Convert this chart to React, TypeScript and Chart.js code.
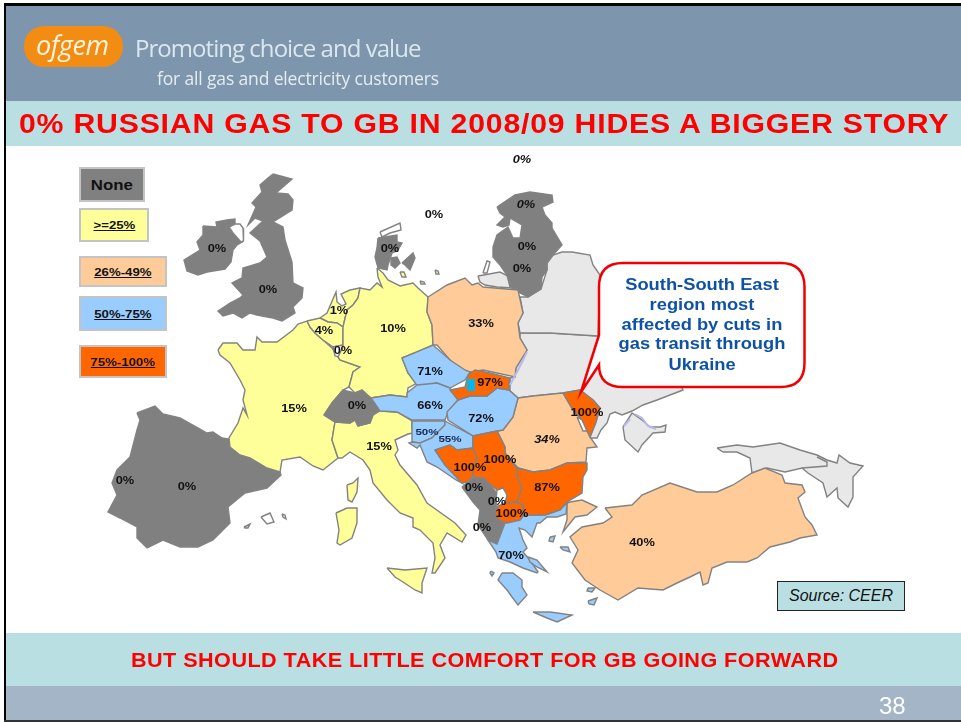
import React, { useEffect, useRef } from "react";
import { Chart, registerables } from "chart.js";

Chart.register(...registerables);

type Pt = [number, number];

const GRAY = "#808080";
const YELLOW = "#ffff99";
const PEACH = "#ffcc99";
const BLUE = "#99ccff";
const ORANGE = "#ff6600";
const PALE = "#e8e8e8";
const WHITE = "#ffffff";

const ukraine: Pt[] = [[520,333],[550,333],[598,336],[660,340],[683,390],[670,395],[657,400],[643,405],[632,411],[622,415],[615,412],[610,414],[607,423],[601,430],[597,438],[582,438],[590,437],[596,422],[600,408],[593,400],[580,390],[563,393],[533,396],[518,398],[509,390],[510,378],[515,377],[516,368],[527,350],[520,338]];
const crimea: Pt[] = [[623,427],[632,413],[642,420],[650,427],[660,427],[666,425],[665,432],[653,433],[642,445],[638,452],[625,440]];
const belarus: Pt[] = [[541,289],[547,270],[547,263],[553,255],[562,252],[572,252],[590,255],[593,265],[600,275],[598,336],[550,333],[520,333],[518,323],[523,313],[520,297],[528,297]];
const kaliningrad: Pt[] = [[478,276],[500,272],[510,277],[513,288],[497,287],[485,285],[480,282]];
const curonianSpit: Pt[] = [[483,273],[487,261],[490,262],[487,273]];
const caucasus: Pt[] = [[717,448],[737,445],[753,447],[780,443],[800,450],[817,455],[827,460],[837,463],[839,455],[850,463],[863,466],[853,477],[853,497],[848,507],[838,498],[837,488],[827,497],[823,483],[808,473],[802,468],[785,472],[767,468],[752,473],[750,458],[737,452],[723,452]];
const caucasusBorder: Pt[] = [[802,468],[827,466],[827,462],[817,457]];

const ireland: Pt[] = [[203,226],[217,227],[216,222],[227,220],[235,219],[235,224],[229,227],[233,233],[242,242],[237,245],[233,250],[231,262],[225,269],[207,272],[198,275],[187,271],[184,260],[192,255],[200,250],[197,242],[203,235]];
const northernIreland: Pt[] = [[229,227],[235,224],[240,224],[243,228],[244,237],[243,241],[241,242],[233,233]];
const britain: Pt[] = [[273,174],[292,179],[276,193],[288,194],[293,200],[292,210],[273,222],[283,227],[285,240],[292,262],[293,283],[303,288],[302,298],[293,307],[295,313],[282,321],[273,318],[257,315],[250,313],[242,318],[233,313],[223,316],[218,311],[230,303],[240,298],[243,295],[232,283],[242,278],[243,268],[260,263],[267,257],[260,241],[250,233],[263,221],[255,218],[248,225],[256,207],[252,203],[262,192],[260,185],[268,178]];
const iberia: Pt[] = [[137,413],[155,406],[163,414],[180,418],[200,429],[207,433],[213,432],[222,438],[229,439],[230,447],[240,455],[250,458],[267,468],[280,472],[281,475],[267,488],[245,493],[228,507],[230,523],[213,540],[198,547],[180,547],[163,540],[147,548],[137,538],[137,527],[120,518],[108,512],[117,495],[112,483],[117,470],[130,457],[137,430],[140,420]];
const switzerland: Pt[] = [[324,415],[332,403],[343,390],[355,393],[362,390],[370,398],[380,410],[373,415],[370,423],[358,426],[355,420],[350,423],[335,422]];
const denmark: Pt[] = [[378,238],[397,235],[397,242],[402,243],[398,250],[392,253],[388,265],[387,270],[378,268],[375,257],[377,248]];
const funen: Pt[] = [[391,258],[397,257],[400,263],[395,268],[391,265]];
const zealand: Pt[] = [[402,263],[413,253],[415,258],[410,270],[405,265]];
const baltics: Pt[] = [[497,207],[515,195],[530,192],[552,195],[553,202],[542,207],[545,215],[552,223],[552,228],[562,245],[553,255],[547,263],[547,270],[542,277],[541,289],[528,297],[520,293],[510,287],[507,275],[500,265],[493,257],[493,247],[497,235],[508,227],[513,238],[520,238],[522,225],[510,218],[509,225],[503,227],[497,225],[505,217],[500,213]];
const albaniaMontenegro: Pt[] = [[462,487],[468,482],[473,478],[485,479],[496,492],[496,507],[495,513],[498,520],[505,523],[497,544],[488,540],[478,525],[480,510],[473,502]];

const france: Pt[] = [[218,350],[223,343],[237,343],[243,350],[255,350],[257,337],[262,342],[277,342],[293,330],[298,324],[307,321],[310,327],[315,333],[323,340],[332,348],[338,357],[340,360],[360,367],[353,372],[349,387],[343,390],[332,403],[324,415],[335,422],[332,440],[338,458],[323,470],[313,466],[300,457],[282,460],[280,472],[267,468],[250,458],[240,455],[230,447],[229,438],[238,423],[243,408],[247,415],[243,400],[245,390],[240,380],[230,363],[220,355]];
const netherlands: Pt[] = [[320,318],[327,313],[336,292],[337,302],[342,306],[346,304],[341,294],[350,290],[360,288],[358,298],[353,305],[347,310],[343,327],[337,323],[328,322]];
const belgium: Pt[] = [[307,321],[320,318],[328,322],[337,323],[343,327],[343,345],[333,347],[323,340],[315,333],[310,327]];
const luxembourg: Pt[] = [[333,347],[343,345],[344,350],[340,357],[335,356]];
const germany: Pt[] = [[377,268],[383,273],[388,280],[400,286],[413,283],[418,288],[428,297],[427,312],[432,325],[433,345],[418,352],[402,358],[408,373],[417,383],[408,388],[407,397],[390,395],[371,398],[362,390],[355,393],[349,387],[353,372],[360,367],[340,360],[338,357],[343,347],[343,327],[347,310],[353,305],[358,298],[360,288],[370,290],[377,283],[382,287],[378,277]];
const italy: Pt[] = [[335,422],[350,423],[355,420],[358,426],[370,423],[373,415],[380,411],[397,412],[412,421],[412,428],[413,433],[408,434],[395,440],[398,450],[395,455],[400,465],[417,485],[427,503],[455,523],[466,535],[462,542],[447,533],[440,545],[445,558],[435,573],[432,573],[435,558],[433,543],[420,530],[413,527],[413,518],[400,513],[387,500],[373,483],[370,470],[363,460],[350,452],[342,458],[338,458],[332,440]];
const sicily: Pt[] = [[387,568],[405,570],[427,568],[422,583],[422,593],[415,590],[403,582],[395,577]];
const sardinia: Pt[] = [[336,513],[347,508],[357,508],[357,523],[352,538],[340,545],[337,543],[339,530]];
const corsica: Pt[] = [[347,485],[353,483],[358,478],[357,492],[352,502],[348,500]];
const fehmarn: Pt[] = [[400,272],[404,272],[406,277],[402,277]];
const rugen: Pt[] = [[435,270],[438,271],[439,274],[436,274]];
const usedom: Pt[] = [[420,281],[424,282],[425,284],[421,284]];
const vendsyssel: Pt[] = [[380,232],[400,223],[401,230],[390,233],[382,237]];
const mallorca: Pt[] = [[261,517],[270,513],[274,522],[267,524]];
const menorca: Pt[] = [[282,514],[285,515],[286,519],[283,517]];
const ibiza: Pt[] = [[244,527],[250,524],[248,528],[245,528]];

const poland: Pt[] = [[428,297],[447,285],[465,278],[472,285],[478,283],[483,287],[518,290],[523,313],[518,323],[520,338],[527,350],[516,368],[515,377],[497,373],[483,370],[465,373],[450,360],[437,345],[433,345],[432,325],[427,312]];
const romania: Pt[] = [[518,398],[533,396],[563,393],[573,410],[582,420],[590,437],[597,447],[587,448],[586,462],[567,463],[550,470],[533,472],[518,468],[505,453],[505,447],[497,431],[503,430],[513,417]];
const thrace: Pt[] = [[570,502],[582,500],[597,507],[587,515],[575,517],[563,532],[567,520],[567,503]];
const anatolia: Pt[] = [[605,508],[632,505],[642,495],[670,483],[697,492],[717,492],[733,485],[752,473],[765,468],[782,475],[785,483],[802,485],[805,492],[798,498],[805,517],[812,525],[817,535],[800,538],[790,542],[778,545],[770,547],[757,558],[747,562],[727,562],[712,568],[708,583],[703,585],[700,572],[690,577],[677,583],[663,590],[638,588],[618,600],[600,590],[585,580],[572,563],[578,550],[570,537],[582,527],[603,523],[612,517]];

const czechia: Pt[] = [[402,358],[433,345],[450,360],[465,370],[470,372],[465,380],[450,388],[437,383],[418,387],[408,373]];
const austria: Pt[] = [[371,398],[390,395],[407,397],[407,393],[417,385],[437,383],[450,388],[458,400],[448,412],[445,420],[412,420],[397,412],[380,411]];
const hungary: Pt[] = [[458,400],[470,396],[487,396],[497,388],[509,390],[518,398],[513,417],[503,430],[497,431],[473,436],[448,420],[447,412]];
const slovenia: Pt[] = [[412,421],[445,421],[445,425],[432,438],[420,443],[412,442],[412,435]];
const croatia: Pt[] = [[445,421],[473,436],[473,448],[457,450],[450,445],[435,450],[445,465],[462,483],[456,480],[437,467],[427,462],[420,445],[417,448],[409,443],[412,442],[420,443],[432,438],[445,425]];
const greece: Pt[] = [[505,523],[524,515],[545,515],[560,510],[567,503],[566,514],[557,517],[547,517],[540,523],[537,523],[532,537],[525,530],[519,528],[523,540],[527,548],[523,552],[530,560],[538,572],[537,573],[523,568],[510,562],[498,558],[496,552],[488,540],[497,544]];
const peloponnese: Pt[] = [[502,573],[513,573],[522,580],[522,587],[527,595],[518,605],[512,597],[507,590],[498,580]];
const crete: Pt[] = [[533,612],[550,612],[572,615],[557,622],[547,618]];
const evia: Pt[] = [[528,557],[537,560],[547,572],[537,567],[530,562]];
const corfu: Pt[] = [[491,571],[494,573],[492,576],[490,573]];
const lesbos: Pt[] = [[550,537],[555,536],[553,542],[549,541]];
const chios: Pt[] = [[560,547],[568,547],[570,552],[563,550]];
const rhodes: Pt[] = [[588,588],[595,588],[592,592],[587,591]];
const kos: Pt[] = [[588,601],[597,598],[594,605],[589,604]];

const slovakia: Pt[] = [[468,375],[475,370],[490,373],[510,378],[509,390],[497,388],[487,396],[470,396],[458,400],[450,390],[465,387]];
const moldova: Pt[] = [[563,393],[580,390],[593,400],[600,408],[596,422],[590,437],[582,420],[573,410]];
const moldovaGap: Pt[] = [[577,417],[582,420],[587,431],[583,431]];
const bosnia: Pt[] = [[435,450],[450,445],[457,450],[473,448],[477,458],[473,468],[475,473],[468,482],[462,483],[445,465]];
const serbia: Pt[] = [[473,436],[497,431],[505,447],[505,453],[518,470],[517,477],[522,488],[517,502],[505,503],[503,488],[497,490],[483,478],[473,477],[473,468],[477,458],[473,448]];
const kosovo: Pt[] = [[497,490],[503,488],[507,495],[505,503],[497,507],[496,500]];
const macedonia: Pt[] = [[505,503],[517,502],[523,505],[524,515],[520,520],[507,523],[498,520],[495,513],[497,507]];
const bulgaria: Pt[] = [[518,468],[533,472],[550,470],[567,463],[587,463],[587,470],[583,477],[582,493],[567,502],[560,510],[545,515],[524,515],[523,505],[517,502],[522,488],[517,477]];
const slovakMarker: Pt[] = [[467,379],[475,379],[475,391],[467,391]];

const regionTable: [Pt[], string][] = [
  [ukraine, PALE],[crimea, PALE],[belarus, PALE],[kaliningrad, PALE],[curonianSpit, WHITE],[caucasus, PALE],
  [ireland, GRAY],[northernIreland, WHITE],[britain, GRAY],[iberia, GRAY],[denmark, GRAY],[funen, GRAY],[zealand, GRAY],[baltics, GRAY],[albaniaMontenegro, GRAY],
  [france, YELLOW],[netherlands, YELLOW],[belgium, YELLOW],[luxembourg, WHITE],[germany, YELLOW],[italy, YELLOW],[sicily, YELLOW],[sardinia, YELLOW],[corsica, YELLOW],[fehmarn, YELLOW],[rugen, YELLOW],[usedom, YELLOW],[vendsyssel, WHITE],[mallorca, WHITE],[menorca, WHITE],[ibiza, PEACH],
  [switzerland, GRAY],
  [poland, PEACH],[romania, PEACH],[thrace, PEACH],[anatolia, PEACH],
  [czechia, BLUE],[austria, BLUE],[hungary, BLUE],[slovenia, BLUE],[croatia, BLUE],[greece, BLUE],[peloponnese, BLUE],[crete, BLUE],[evia, BLUE],[corfu, BLUE],[lesbos, BLUE],[chios, BLUE],[rhodes, BLUE],[kos, BLUE],
  [slovakia, ORANGE],[moldova, ORANGE],[moldovaGap, WHITE],[bosnia, ORANGE],[serbia, ORANGE],[kosovo, WHITE],[macedonia, ORANGE],[bulgaria, ORANGE],
];

const lavenderLines: Pt[][] = [
  [[527,352],[518,370],[510,385]],
  [[635,414],[642,418],[648,426],[656,429]],
  [[624,426],[630,419]],
];
const MARKER = "#00b8f0";

const labelTexts = ["0%","0%","0%","0%","0%","0%","0%","0%","1%","4%","0%","10%","33%","71%","97%","15%","0%","66%","72%","34%","100%","50%","55%","15%","100%","100%","0%","0%","87%","100%","0%","70%","40%","0%","0%"];
const labelXs = [522,526,434,217,268,390,527,522,339,324,343,393,481,430,490,294,357,430,481,547,587,427,450,379,470,500,474,497,547,512,482,511,642,125,187];
const labelYs = [160,205,215,249,290,249,247,269,311,331,351,329,324,372,383,409,406,406,419,440,413,432,439,447,468,460,488,502,488,514,528,556,543,481,487];
const italicLabels = [0, 1, 19];
const smallLabels = [21, 22];

const calloutLines = ["South-South East","region most","affected by cuts in","gas transit through","Ukraine"];
const calloutYs = [285,305,325,344,365];

const legendNames = ["None",">=25%","26%-49%","50%-75%","75%-100%"];
const legendColors = [GRAY, YELLOW, PEACH, BLUE, ORANGE];
const legendBoxes = [[79,167,66,35],[79,208,70,34],[79,256,88,31],[79,296,88,35],[79,345,88,33]];

const overlay = {
  id: "overlay",
  afterDatasetsDraw(chart: any) {
    const { ctx, scales } = chart;
    const px = (v: number) => scales.x.getPixelForValue(v);
    const py = (v: number) => scales.y.getPixelForValue(v);
    ctx.save();
    labelTexts.forEach((t, i) => {
      const small = smallLabels.includes(i);
      ctx.save();
      ctx.translate(px(labelXs[i]), py(labelYs[i]));
      ctx.scale(1.22, 1);
      ctx.font = `${italicLabels.includes(i) ? "italic " : ""}bold ${small ? 9.5 : 10.5}px "Liberation Sans"`;
      ctx.fillStyle = small ? "#1a2a50" : "#111";
      ctx.textAlign = "center";
      ctx.textBaseline = "middle";
      ctx.fillText(t, 0, 0);
      ctx.restore();
    });
    const [l, t, r, b, rad] = [px(599), py(263), px(804.5), py(387), 24];
    ctx.beginPath();
    ctx.moveTo(l + rad, t);
    ctx.lineTo(r - rad, t);
    ctx.quadraticCurveTo(r, t, r, t + rad);
    ctx.lineTo(r, b - rad);
    ctx.quadraticCurveTo(r, b, r - rad, b);
    ctx.lineTo(l + rad, b);
    ctx.quadraticCurveTo(l, b, l, py(365));
    ctx.lineTo(px(581), py(392));
    ctx.lineTo(l, py(335));
    ctx.lineTo(l, t + rad);
    ctx.quadraticCurveTo(l, t, l + rad, t);
    ctx.closePath();
    ctx.fillStyle = "#fff";
    ctx.fill();
    ctx.strokeStyle = "#f00000";
    ctx.lineWidth = 2.5;
    ctx.stroke();
    ctx.fillStyle = "#0f52a5";
    ctx.font = 'bold 16.5px "Liberation Sans"';
    ctx.textAlign = "center";
    ctx.textBaseline = "middle";
    calloutLines.forEach((s, i) => {
      ctx.save();
      ctx.translate(px(702), py(calloutYs[i]));
      ctx.scale(1.11, 1);
      ctx.fillText(s, 0, 0);
      ctx.restore();
    });
    ctx.restore();
  },
};

const abs = (left: number, top: number, extra: React.CSSProperties = {}): React.CSSProperties => ({
  position: "absolute",
  left,
  top,
  whiteSpace: "nowrap",
  ...extra,
});

export default function App() {
  const ref = useRef<HTMLCanvasElement>(null);
  useEffect(() => {
    document.body.style.margin = "0";
    const toXY = (p: Pt[]) => [...p, p[0]].map(([x, y]) => ({ x, y }));
    const fills = regionTable.map(([pts, color], i) => ({
      data: toXY(pts),
      showLine: true,
      fill: "shape",
      backgroundColor: color,
      borderColor: "#828282",
      borderWidth: 1.4,
      pointRadius: 0,
      tension: 0,
      order: -i,
    }));
    const extras = [
      { data: caucasusBorder.map(([x, y]) => ({ x, y })), showLine: true, fill: false, borderColor: "#828282", borderWidth: 1.4, pointRadius: 0, order: -900 },
      ...lavenderLines.map((p) => ({ data: p.map(([x, y]) => ({ x, y })), showLine: true, fill: false, borderColor: "#b8b8ec", borderWidth: 2, pointRadius: 0, order: -901 })),
      { data: toXY(slovakMarker), showLine: true, fill: "shape", backgroundColor: MARKER, borderColor: MARKER, borderWidth: 0, pointRadius: 0, order: -902 },
    ];
    const chart = new Chart(ref.current!, {
      type: "scatter",
      data: { datasets: [...fills, ...extras] as any },
      options: {
        animation: false,
        responsive: false,
        events: [],
        layout: { padding: 0 },
        plugins: { legend: { display: false }, tooltip: { enabled: false } },
        scales: {
          x: { type: "linear", display: false, min: 0, max: 961 },
          y: { type: "linear", display: false, min: 0, max: 722, reverse: true },
        },
      },
      plugins: [overlay],
    } as any);
    return () => chart.destroy();
  }, []);

  const sans = '"Liberation Sans", Arial, sans-serif';
  return (
    <div style={{ position: "relative", width: 961, height: 722, overflow: "hidden", background: "#fff", fontFamily: sans, filter: "blur(0.35px)" }}>
      <div style={abs(4, 3, { width: 957, height: 3, background: "#000" })} />
      <div style={abs(4, 3, { width: 2, height: 719, background: "#000" })} />
      <div style={abs(6, 6, { width: 955, height: 95, background: "#7d96ae" })} />
      <div style={abs(6, 101, { width: 955, height: 45, background: "#b9dfe2" })} />
      <div style={abs(6, 633, { width: 955, height: 53, background: "#b9dfe2" })} />
      <div style={abs(6, 686, { width: 955, height: 34, background: "#a3b5c6" })} />
      <div style={abs(4, 720, { width: 957, height: 2, background: "#333" })} />

      <canvas ref={ref} width={961} height={722} style={{ position: "absolute", left: 0, top: 0, display: "block" }} />

      <div style={abs(24, 26, { width: 99, height: 41, borderRadius: 20, background: "#f28c12" })} />
      <div style={abs(36, 26, { color: "#fff4e0", font: 'italic 27px/38px "Open Sans"', letterSpacing: -0.4 })}>ofgem</div>
      <div style={abs(135, 31, { color: "#dbe7ee", font: '24px/34px "Open Sans"', letterSpacing: -0.96 })}>Promoting choice and value</div>
      <div style={abs(157, 65, { color: "#e4edf2", font: '17.5px/26px "Open Sans"', letterSpacing: -0.15 })}>for all gas and electricity customers</div>

      <div style={abs(19, 106, { color: "#ff0000", font: `bold 27px/36px ${sans}`, letterSpacing: 0.7, transform: "scaleX(1.12)", transformOrigin: "left center" })}>0% RUSSIAN GAS TO GB IN 2008/09 HIDES A BIGGER STORY</div>
      <div style={abs(131, 648, { color: "#ff0000", font: `bold 20px/24px ${sans}`, letterSpacing: 0.42, transform: "scaleX(1.08)", transformOrigin: "left center" })}>BUT SHOULD TAKE LITTLE COMFORT FOR GB GOING FORWARD</div>
      <div style={abs(879, 693, { color: "#fff", font: `24px/26px ${sans}` })}>38</div>

      {legendNames.map((name, i) => {
        const [x, y, w, h] = legendBoxes[i];
        const first = i === 0;
        return (
          <div key={name} style={abs(x, y, { width: w, height: h, boxSizing: "border-box", background: legendColors[i], border: "2px solid #c4c4c4", display: "flex", alignItems: "center", justifyContent: "center", color: "#111", fontWeight: "bold", fontSize: first ? 15 : 11 })}>
            <span style={{ display: "inline-block", transform: first ? "scaleX(1.12)" : "scaleX(1.2)", textDecoration: first ? "none" : "underline" }}>{name}</span>
          </div>
        );
      })}

      <div style={abs(777, 581, { width: 128, height: 30, boxSizing: "border-box", background: "#b9dfe2", border: "1.5px solid #222", display: "flex", alignItems: "center", justifyContent: "center", font: `italic 16px ${sans}`, color: "#111" })}>Source: CEER</div>
    </div>
  );
}
